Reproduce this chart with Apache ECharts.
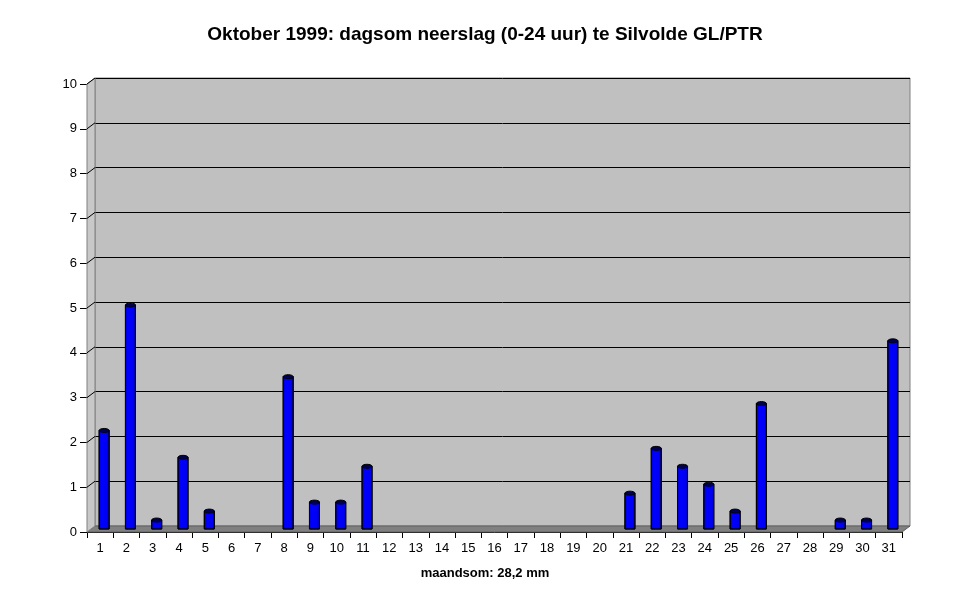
<!DOCTYPE html>
<html><head><meta charset="utf-8">
<script src="https://cdn.jsdelivr.net/npm/echarts@6/dist/echarts.min.js"></script>
<style>html,body{margin:0;padding:0;background:#fff}#c{width:970px;height:604px}</style>
</head><body><div id="c"></div>
<script>
var days = ['1','2','3','4','5','6','7','8','9','10','11','12','13','14','15','16','17','18','19','20','21','22','23','24','25','26','27','28','29','30','31'];
var rain = [2.2,5.0,0.2,1.6,0.4,0,0,3.4,0.6,0.6,1.4,0,0,0,0,0,0,0,0,0,0.8,1.8,1.4,1.0,0.4,2.8,0,0,0.2,0.2,4.2];
var yTicks = [0,1,2,3,4,5,6,7,8,9,10];
var titleText = 'Oktober 1999: dagsom neerslag (0-24 uur) te Silvolde GL/PTR';
var footText = 'maandsom: 28,2 mm';

var FONT = '"Liberation Sans", Arial, sans-serif';
var chart = echarts.init(document.getElementById('c'));
var barData = rain.map(function(v,i){return [i, v];});

var option = {
  animation: false,
  backgroundColor: '#ffffff',
  title: [
    {text: titleText, left: 'center', top: 20, textStyle:{fontFamily: FONT, fontSize: 19, fontWeight: 'bold', color:'#000'}},
    {text: footText, left: 'center', top: 562, textStyle:{fontFamily: FONT, fontSize: 13, fontWeight: 'bold', color:'#000'}}
  ],
  grid: [
    {left: 95, right: 60, top: 78, bottom: 78, show: true, backgroundColor: '#C0C0C0', borderColor: '#808080', borderWidth: 1, z: 0},
    {left: 87, right: 68, top: 84, bottom: 72, show: false},
    {left: 91, right: 64, top: 81, bottom: 75, show: false}
  ],
  xAxis: [
    {gridIndex: 0, type: 'category', data: days, show: false},
    {gridIndex: 1, type: 'category', data: days, boundaryGap: true,
      axisLine: {show: true, lineStyle: {color: '#000', width: 1}},
      axisTick: {show: true, interval: 0, length: 6, lineStyle: {color:'#000'}},
      axisLabel: {interval: 0, fontFamily: FONT, fontSize: 13, color: '#000', margin: 10}},
    {gridIndex: 2, type: 'category', data: days, show: false}
  ],
  yAxis: [
    {gridIndex: 0, type: 'value', min: 0, max: 10, interval: 1,
      axisLine: {show: false}, axisTick: {show: false}, axisLabel: {show: false},
      splitLine: {show: true, lineStyle: {color: '#000', width: 1}}},
    {gridIndex: 1, type: 'value', min: 0, max: 10, interval: 1,
      axisLine: {show: true, lineStyle: {color: '#000', width: 1}},
      axisTick: {show: true, length: 7, lineStyle: {color:'#000'}},
      axisLabel: {fontFamily: FONT, fontSize: 13, color: '#000', margin: 10},
      splitLine: {show: false}},
    {gridIndex: 2, type: 'value', min: 0, max: 10, interval: 1, show: false, splitLine: {show:false}}
  ],
  series: [{
    type: 'custom', xAxisIndex: 2, yAxisIndex: 2, z: 5,
    data: barData,
    renderItem: function(params, api){
      var v = api.value(1);
      if (!(v > 0)) return null;
      var top = api.coord([api.value(0), v]);
      var base = api.coord([api.value(0), 0]);
      var w = 10;
      return {type: 'group', children: [
        {type: 'rect', shape: {x: top[0]-w/2, y: top[1], width: w, height: base[1]-top[1]},
          style: {fill: {type:'linear', x:0, y:0, x2:1, y2:0, colorStops:[{offset:0,color:'#0000E0'},{offset:0.3,color:'#0000FF'},{offset:0.8,color:'#0000F0'},{offset:1,color:'#000090'}]}, stroke: '#000', lineWidth: 1}},
        {type: 'ellipse', shape: {cx: top[0], cy: top[1], rx: w/2, ry: 2},
          style: {fill: '#000050', stroke: '#000', lineWidth: 1}}
      ]};
    }
  }]
};
chart.setOption(option);

// decorative 3D walls / floor derived from the grid rectangles and axes
var g0 = chart.getModel().getComponent('grid', 0).coordinateSystem.getRect();
var g1 = chart.getModel().getComponent('grid', 1).coordinateSystem.getRect();
var els = [];
els.push({type:'polygon', z: 1, shape:{points:[[g1.x, g1.y+g1.height],[g1.x+g1.width, g1.y+g1.height],[g0.x+g0.width, g0.y+g0.height],[g0.x, g0.y+g0.height]]},
  style:{fill:'#808080', stroke:'#606060', lineWidth:1}});
els.push({type:'polygon', z: 1, shape:{points:[[g1.x, g1.y+g1.height],[g0.x, g0.y+g0.height],[g0.x, g0.y],[g1.x, g1.y]]},
  style:{fill:'#C8C8C8', stroke:'#808080', lineWidth:1}});
yTicks.forEach(function(t){
  if (t === 0) return;
  var f = chart.convertToPixel({yAxisIndex:1}, t);
  var b = chart.convertToPixel({yAxisIndex:0}, t);
  els.push({type:'line', z: 2, shape:{x1: g1.x, y1: f, x2: g0.x, y2: b}, style:{stroke:'#000', lineWidth:1}});
});
chart.setOption({graphic: {elements: els}});
</script></body></html>
